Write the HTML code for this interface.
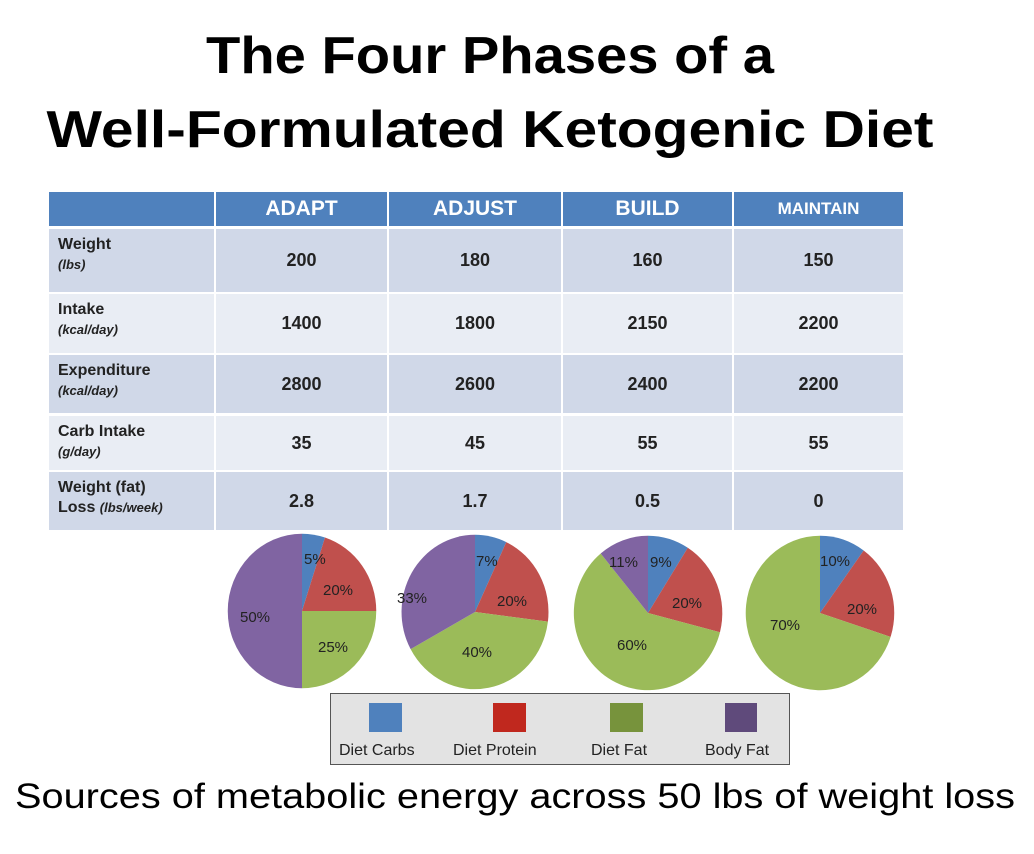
<!DOCTYPE html>
<html><head><meta charset="utf-8"><style>
body{margin:0;width:1034px;height:854px;background:#fff;position:relative;overflow:hidden;font-family:"Liberation Sans",sans-serif}
.t{position:absolute;left:0;width:980px;text-align:center;font-weight:bold;font-size:52px;color:#000;transform-origin:490px 0}
.c{position:absolute;box-sizing:border-box}
.h{background:#4f81bd;color:#fff;font-weight:bold;font-size:21px;text-align:center;line-height:34px}
.l{font-size:16px;font-weight:bold;color:#222;padding:6px 0 0 9px;line-height:20px}
.l i{font-size:13px}
.v{font-size:18px;font-weight:bold;color:#222;text-align:center}
</style></head><body>
<div class="t" style="top:26px;transform:scaleX(1.08)">The Four Phases of a</div>
<div class="t" style="top:100px;transform:scaleX(1.13)">Well-Formulated Ketogenic Diet</div>
<div class="c h" style="left:49px;top:192px;width:165px;height:34px"></div>
<div class="c h" style="left:216px;top:192px;width:171px;height:34px">ADAPT</div>
<div class="c h" style="left:389px;top:192px;width:172px;height:34px">ADJUST</div>
<div class="c h" style="left:563px;top:192px;width:169px;height:34px">BUILD</div>
<div class="c h" style="left:734px;top:192px;width:169px;height:34px;font-size:17px">MAINTAIN</div>
<div id="rows"></div>
<script>
var rows=[[229,63,"#d0d8e8","Weight<br><i>(lbs)</i>",["200","180","160","150"]],
[294,59,"#e9edf4","Intake<br><i>(kcal/day)</i>",["1400","1800","2150","2200"]],
[355,58,"#d0d8e8","Expenditure<br><i>(kcal/day)</i>",["2800","2600","2400","2200"]],
[416,54,"#e9edf4","Carb Intake<br><i>(g/day)</i>",["35","45","55","55"]],
[472,58,"#d0d8e8","Weight (fat)<br>Loss <i>(lbs/week)</i>",["2.8","1.7","0.5","0"]]];
var cols=[[49,165],[216,171],[389,172],[563,169],[734,169]],h="";
rows.forEach(function(r){cols.forEach(function(c,i){
var s='left:'+c[0]+'px;top:'+r[0]+'px;width:'+c[1]+'px;height:'+r[1]+'px;background:'+r[2]+';';
if(i==0)h+='<div class="c l" style="'+s+'">'+r[3]+'</div>';
else h+='<div class="c v" style="'+s+'line-height:'+r[1]+'px">'+r[4][i-1]+'</div>';});});
document.getElementById('rows').innerHTML=h;
</script>
<svg style="position:absolute;left:0;top:0" width="1034" height="854" font-family="Liberation Sans,sans-serif" font-size="15" fill="#222">
<g transform="translate(302,611) scale(0.99,1.03)">
<path d="M0,0L0,-75A75,75 0 0 1 23.2,-71.3Z" fill="#4f81bd"/>
<path d="M0,0L23.2,-71.3A75,75 0 0 1 75,0Z" fill="#c0504d"/>
<path d="M0,0L75,0A75,75 0 0 1 0,75Z" fill="#9bbb59"/>
<path d="M0,0L0,75A75,75 0 0 1 0,-75Z" fill="#8064a2"/>
</g>
<g transform="translate(475,612) scale(0.98,1.03)">
<path d="M0,0L0,-75A75,75 0 0 1 31.9,-67.9Z" fill="#4f81bd"/>
<path d="M0,0L31.9,-67.9A75,75 0 0 1 74.4,9.4Z" fill="#c0504d"/>
<path d="M0,0L74.4,9.4A75,75 0 0 1 -65.7,36.1Z" fill="#9bbb59"/>
<path d="M0,0L-65.7,36.1A75,75 0 0 1 0,-75Z" fill="#8064a2"/>
</g>
<g transform="translate(648,613) scale(0.99,1.03)">
<path d="M0,0L0,-75A75,75 0 0 1 40.2,-63.3Z" fill="#4f81bd"/>
<path d="M0,0L40.2,-63.3A75,75 0 0 1 72.7,18.7Z" fill="#c0504d"/>
<path d="M0,0L72.7,18.7A75,75 0 1 1 -47.8,-57.8Z" fill="#9bbb59"/>
<path d="M0,0L-47.8,-57.8A75,75 0 0 1 0,-75Z" fill="#8064a2"/>
</g>
<g transform="translate(820,613) scale(0.99,1.03)">
<path d="M0,0L0,-75A75,75 0 0 1 44.1,-60.7Z" fill="#4f81bd"/>
<path d="M0,0L44.1,-60.7A75,75 0 0 1 71.3,23.2Z" fill="#c0504d"/>
<path d="M0,0L71.3,23.2A75,75 0 1 1 0,-75Z" fill="#9bbb59"/>
</g>
<text x="304" y="564">5%</text><text x="323" y="595">20%</text><text x="318" y="652">25%</text><text x="240" y="622">50%</text>
<text x="476" y="566">7%</text><text x="497" y="606">20%</text><text x="462" y="657">40%</text><text x="397" y="603">33%</text>
<text x="650" y="567">9%</text><text x="672" y="608">20%</text><text x="617" y="650">60%</text><text x="609" y="567">11%</text>
<text x="820" y="566">10%</text><text x="847" y="614">20%</text><text x="770" y="630">70%</text>
<rect x="330.5" y="693.5" width="459" height="71" fill="#e3e3e3" stroke="#555"/>
<rect x="369" y="703" width="33" height="29" fill="#4f81bd"/>
<rect x="493" y="703" width="33" height="29" fill="#c0281e"/>
<rect x="610" y="703" width="33" height="29" fill="#77933c"/>
<rect x="725" y="703" width="32" height="29" fill="#5f4a7b"/>
<text x="339" y="755" font-size="16">Diet Carbs</text>
<text x="453" y="755" font-size="16">Diet Protein</text>
<text x="591" y="755" font-size="16">Diet Fat</text>
<text x="705" y="755" font-size="16">Body Fat</text>
<text x="15" y="808" font-size="35" fill="#000" textLength="1000" lengthAdjust="spacingAndGlyphs">Sources of metabolic energy across 50 lbs of weight loss</text>
</svg>
</body></html>
